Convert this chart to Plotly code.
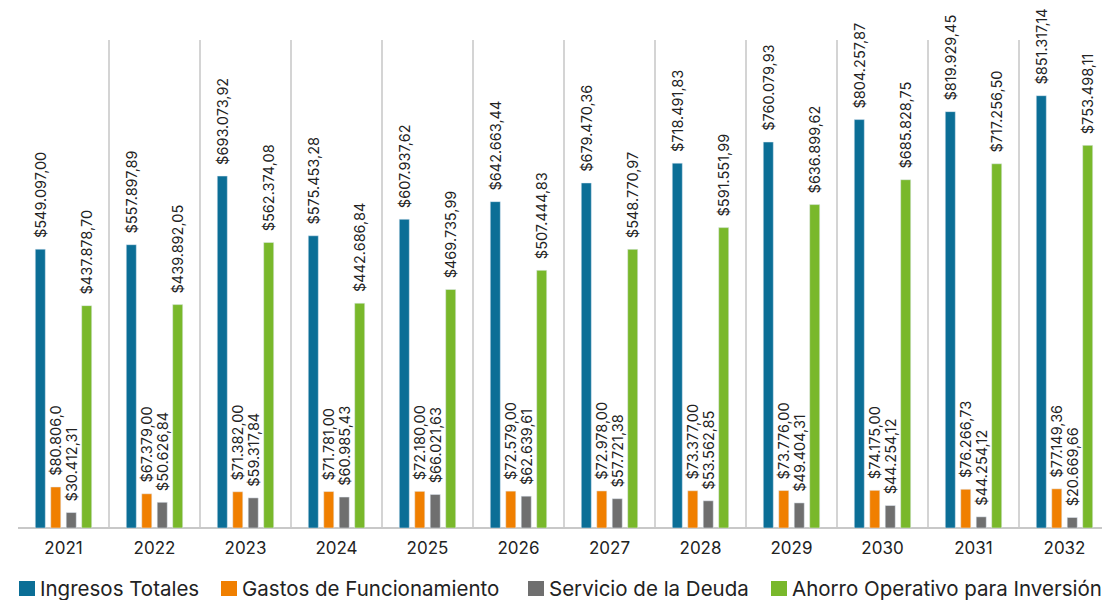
import plotly.graph_objects as go

# Years and series
years = [2021, 2022, 2023, 2024, 2025, 2026, 2027, 2028, 2029, 2030, 2031, 2032]

ingresos = [549097.00, 557897.89, 693073.92, 575453.28, 607937.62, 642663.44,
            679470.36, 718491.83, 760079.93, 804257.87, 819929.45, 851317.14]
gastos = [80806.00, 67379.00, 71382.00, 71781.00, 72180.00, 72579.00,
          72978.00, 73377.00, 73776.00, 74175.00, 76266.73, 77149.36]
deuda = [30412.31, 50626.84, 59317.84, 60985.43, 66021.63, 62639.61,
         57721.38, 53562.85, 49404.31, 44254.12, 22000.00, 20669.66]
ahorro = [437878.70, 439892.05, 562374.08, 442686.84, 469735.99, 507444.83,
          548770.97, 591551.99, 636899.62, 685828.75, 717256.50, 753498.11]

# Data labels as printed on the chart
ingresos_txt = ["$549.097,00", "$557.897,89", "$693.073,92", "$575.453,28", "$607.937,62", "$642.663,44",
                "$679.470,36", "$718.491,83", "$760.079,93", "$804.257,87", "$819.929,45", "$851.317,14"]
gastos_txt = ["$80.806,0", "$67.379,00", "$71.382,00", "$71.781,00", "$72.180,00", "$72.579,00",
              "$72.978,00", "$73.377,00", "$73.776,00", "$74.175,00", "$76.266,73", "$77.149,36"]
deuda_txt = ["$30.412,31", "$50.626,84", "$59.317,84", "$60.985,43", "$66.021,63", "$62.639,61",
             "$57.721,38", "$53.562,85", "$49.404,31", "$44.254,12", "$44.254,12", "$20.669,66"]
ahorro_txt = ["$437.878,70", "$439.892,05", "$562.374,08", "$442.686,84", "$469.735,99", "$507.444,83",
              "$548.770,97", "$591.551,99", "$636.899,62", "$685.828,75", "$717.256,50", "$753.498,11"]

series = [
    ("Ingresos Totales", ingresos, ingresos_txt, "#0b6e96"),
    ("Gastos de Funcionamiento", gastos, gastos_txt, "#f07f00"),
    ("Servicio de la Deuda", deuda, deuda_txt, "#6f6f6f"),
    ("Ahorro Operativo para Inversión", ahorro, ahorro_txt, "#79b82b"),
]

FONT = "Inter"
# the page body adds an 8px offset, so margins are set 8px smaller
OFF = 8
W, H = 1110, 600
ML, MR, MT, MB = 18 - OFF, OFF, 40 - OFF, 72 + OFF
PW, PH = W - ML - MR, H - MT - MB


def px_x(v):
    return (v - OFF - ML) / PW


def px_y(v):
    return (MT + PH - (v - OFF)) / PH


fig = go.Figure()
for name, vals, txt, color in series:
    fig.add_trace(go.Bar(
        x=years, y=vals, name=name, marker_color=color,
        text=["\u00a0\u00a0" + t for t in txt], textposition="outside", textangle=-90,
        constraintext="none", cliponaxis=False,
        textfont=dict(family=FONT, size=14.5, color="#222222"),
    ))

# legend drawn by hand: square + label, positions in screen pixels
legend_x = [19, 221, 528, 771]
for (name, _, _, color), lx in zip(series, legend_x):
    fig.add_shape(type="rect", xref="paper", yref="paper",
                  x0=px_x(lx), x1=px_x(lx + 16),
                  y0=px_y(581), y1=px_y(596),
                  fillcolor=color, line_width=0)
    fig.add_annotation(text=name, xref="paper", yref="paper",
                       x=px_x(lx + 19), xanchor="left",
                       y=px_y(588), yanchor="middle",
                       showarrow=False, font=dict(family=FONT, size=20.5, color="#222222"))

fig.update_layout(
    width=W, height=H,
    margin=dict(l=ML, r=MR, t=MT, b=MB, autoexpand=False),
    paper_bgcolor="white", plot_bgcolor="white",
    barmode="group", bargap=0.32, bargroupgap=0.35,
    font=dict(family=FONT, color="#222222"),
    showlegend=False,
    xaxis=dict(
        range=[2020.5, 2032.5], tickvals=years, ticktext=[str(y) for y in years],
        tickfont=dict(size=17, color="#222222"), showgrid=False,
        showline=False, ticks="", ticklabelstandoff=8,
        minor=dict(tickvals=[y + 0.5 for y in years[:-1]], showgrid=True,
                   gridcolor="#d4d4d4", gridwidth=2),
    ),
    yaxis=dict(
        range=[0, 961000], showgrid=False, showticklabels=False,
        zeroline=True, zerolinecolor="#c8c8c8", zerolinewidth=2,
    ),
)

fig.write_html("out.html")
